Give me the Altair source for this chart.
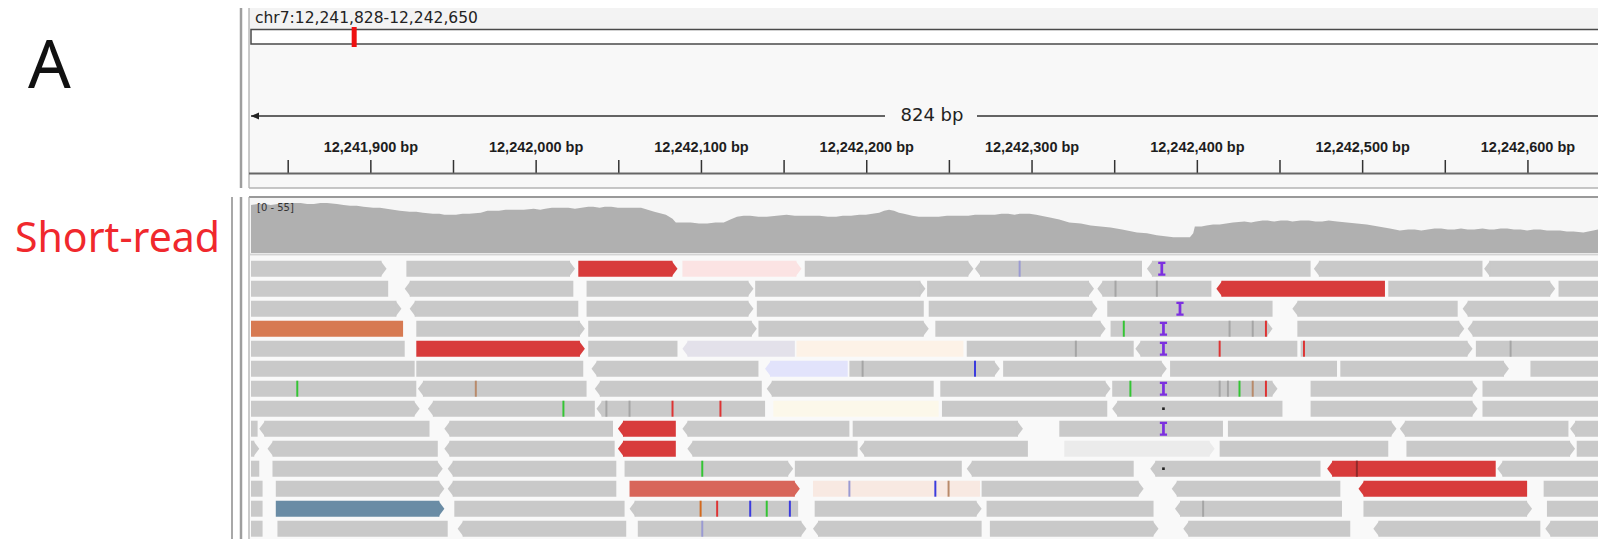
import altair as alt
import pandas as pd

# ---------------- data ----------------
VIEW_START = 12241828
VIEW_END = 12242650
CHROM = "chr7"
CHROM_LEN = 159345973
COV_MAX = 55

TICK_MAJOR = [12241900, 12242000, 12242100, 12242200, 12242300, 12242400, 12242500, 12242600]
TICK_MINOR = [12241850, 12241950, 12242050, 12242150, 12242250, 12242350, 12242450, 12242550]

# coverage profile: offset (bp from view start) and depth
COV_OFFSET = [0, 4, 8, 12, 16, 20, 24, 30, 34, 38, 42, 46, 52, 56, 60, 64, 68, 74, 78, 82, 86, 90, 96,
              100, 104, 110, 114, 117, 121, 124, 128, 132, 139, 143, 147, 150, 154, 158, 162, 165, 171,
              175, 178, 182, 186, 192, 196, 200, 204, 207, 211, 214, 218, 222, 226, 230, 236, 240, 244,
              251, 255, 257, 262, 266, 271, 276, 281, 286, 290, 294, 298, 302, 307, 312, 318, 324, 329,
              334, 339, 344, 349, 354, 358, 363, 368, 372, 376, 380, 383, 386, 389, 392, 395, 400, 404,
              407, 412, 416, 421, 425, 430, 434, 438, 442, 446, 450, 454, 458, 462, 465, 471, 475, 478,
              484, 489, 495, 502, 508, 514, 520, 527, 533, 536, 542, 548, 553, 558, 563, 568, 570, 571,
              575, 578, 582, 586, 590, 594, 601, 605, 608, 612, 615, 619, 623, 627, 630, 635, 640, 644,
              648, 652, 657, 663, 669, 675, 682, 689, 695, 700, 704, 708, 712, 716, 720, 724, 728, 732,
              736, 740, 745, 749, 752, 756, 760, 764, 768, 772, 776, 780, 784, 788, 792, 796, 800, 806,
              812, 818, 824]
COV_DEPTH = [49, 50, 50, 49, 50, 51, 51, 51, 50, 50, 51, 51, 50, 49, 48, 48, 47, 46, 46, 45, 44, 43, 42,
             42, 41, 40, 40, 39, 39, 39, 40, 40, 41, 43, 43, 43, 44, 44, 44, 44, 45,
             44, 45, 46, 46, 46, 45, 46, 47, 47, 46, 47, 47, 46, 46, 46, 46, 44, 42,
             39, 35, 31, 31, 31, 30, 30, 31, 31, 34, 37, 38, 38, 37, 37, 38, 39, 38,
             38, 38, 38, 37, 37, 38, 38, 39, 39, 40, 41, 43, 44, 43, 41, 40, 38, 37,
             37, 37, 37, 38, 38, 38, 38, 39, 39, 39, 39, 40, 40, 39, 40, 40, 39, 38,
             36, 34, 31, 30, 28, 27, 26, 24, 22, 21, 20, 18, 17, 16, 16, 16, 20, 27,
             27, 28, 29, 29, 30, 31, 32, 31, 32, 33, 33, 32, 33, 33, 32, 33, 33, 32,
             32, 33, 32, 31, 30, 29, 27, 25, 23, 24, 24, 23, 24, 25, 25, 24, 24, 25,
             24, 24, 25, 24, 24, 25, 25, 24, 24, 23, 24, 24, 23, 23, 23, 22, 22, 21,
             23, 25, 25]

# reads per row: (start offset bp, end offset bp, strand, pair class)
ROW0 = [(0, 82, '+', 'n'), (94, 196, '+', 'n'), (198, 258, '+', 'r'), (261, 333, '+', 'pk'), (335, 437, '+', 'n'),
        (438, 539, '-', 'n'), (542, 641, '-', 'n'), (643, 745, '-', 'n'), (746, 826, '-', 'n')]
ROW1 = [(0, 83, '', 'n'), (93, 195, '-', 'n'), (203, 304, '+', 'n'), (305, 408, '+', 'n'), (409, 510, '+', 'n'),
        (512, 581, '-', 'n'), (584, 686, '-', 'r'), (688, 789, '+', 'n'), (791, 826, '', 'n')]
ROW2 = [(0, 91, '+', 'n'), (96, 198, '-', 'n'), (203, 304, '+', 'n'), (306, 407, '', 'n'), (410, 512, '+', 'n'),
        (518, 618, '', 'n'), (630, 730, '-', 'n'), (733, 826, '-', 'n')]
ROW3 = [(0, 92, '', 'o'), (100, 202, '+', 'n'), (204, 306, '+', 'n'), (307, 410, '+', 'n'), (414, 517, '+', 'n'),
        (520, 618, '+', 'n'), (633, 734, '+', 'n'), (736, 826, '-', 'n')]
ROW4 = [(0, 93, '', 'n'), (100, 202, '+', 'r'), (204, 258, '', 'n'), (261, 329, '-', 'lv'), (330, 431, '', 'cr'),
        (433, 534, '', 'n'), (535, 633, '-', 'n'), (635, 739, '+', 'n'), (741, 826, '', 'n')]
ROW5 = [(0, 99, '', 'n'), (100, 201, '', 'n'), (206, 307, '-', 'n'), (311, 361, '-', 'lb'), (362, 453, '+', 'n'),
        (455, 554, '+', 'n'), (556, 657, '', 'n'), (659, 761, '+', 'n'), (774, 826, '', 'n')]
ROW6 = [(0, 100, '', 'n'), (101, 203, '-', 'n'), (208, 309, '-', 'n'), (312, 413, '-', 'n'), (417, 520, '+', 'n'),
        (521, 621, '+', 'n'), (641, 742, '+', 'n'), (745, 826, '', 'n')]
ROW7 = [(0, 102, '+', 'n'), (107, 208, '-', 'n'), (209, 311, '-', 'n'), (316, 416, '', 'cy'), (418, 518, '', 'n'),
        (521, 624, '-', 'n'), (641, 742, '+', 'n'), (745, 826, '', 'n')]
ROW8 = [(0, 4, '', 'n'), (5, 108, '-', 'n'), (117, 219, '-', 'n'), (222, 257, '-', 'r'), (261, 362, '-', 'n'),
        (364, 467, '+', 'n'), (489, 588, '', 'n'), (591, 693, '+', 'n'), (695, 797, '-', 'n'), (798, 826, '-', 'n')]
ROW9 = [(0, 5, '+', 'n'), (10, 113, '-', 'n'), (117, 220, '-', 'n'), (222, 257, '-', 'r'), (264, 367, '-', 'n'),
        (368, 470, '-', 'n'), (492, 583, '+', 'wg'), (586, 688, '', 'n'), (699, 801, '+', 'n'), (802, 826, '', 'n')]
ROW10 = [(0, 5, '', 'n'), (13, 116, '+', 'n'), (119, 221, '-', 'n'), (226, 328, '+', 'n'), (329, 430, '', 'n'),
         (433, 534, '-', 'n'), (544, 647, '-', 'n'), (651, 753, '-', 'r'), (754, 826, '-', 'n')]
ROW11 = [(0, 7, '', 'n'), (15, 117, '+', 'n'), (119, 221, '-', 'n'), (229, 332, '+', 's'), (340, 441, '', 'lp'),
         (442, 540, '+', 'n'), (557, 659, '-', 'n'), (670, 772, '-', 'r'), (782, 826, '', 'n')]
ROW12 = [(0, 7, '', 'n'), (15, 117, '+', 'b'), (123, 226, '', 'n'), (229, 331, '-', 'n'), (341, 442, '+', 'n'),
         (445, 546, '', 'n'), (559, 660, '-', 'n'), (673, 775, '+', 'n'), (784, 826, '', 'n')]
ROW13 = [(0, 7, '', 'n'), (16, 119, '', 'n'), (125, 227, '-', 'n'), (234, 336, '+', 'n'), (340, 442, '-', 'n'),
         (447, 549, '+', 'n'), (564, 665, '-', 'n'), (679, 780, '-', 'n'), (783, 826, '-', 'n')]
ROW14 = [(0, 7, '', 'n'), (18, 123, '', 'n'), (130, 230, '', 'r'), (235, 338, '', 'n'), (340, 444, '', 'n'),
         (447, 550, '', 'n'), (565, 665, '', 'n'), (679, 780, '', 'n'), (783, 826, '', 'n')]
ALL_ROWS = [ROW0, ROW1, ROW2, ROW3, ROW4, ROW5, ROW6, ROW7, ROW8, ROW9, ROW10, ROW11, ROW12, ROW13, ROW14]

# mismatches: (row, offset, base code)
MISMATCH = [(0, 465, 'c'), (1, 523, 'x'), (1, 548, 'x'), (3, 528, 'A'), (3, 592, 'x'), (3, 606, 'x'), (3, 614, 'T'),
            (4, 499, 'x'), (4, 586, 'T'), (4, 637, 'T'), (4, 762, 'x'), (5, 370, 'x'), (5, 438, 'C'),
            (6, 28, 'A'), (6, 136, 'g'), (6, 532, 'A'), (6, 586, 'x'), (6, 591, 'x'), (6, 598, 'A'), (6, 606, 'g'),
            (6, 614, 'T'), (7, 189, 'A'), (7, 215, 'x'), (7, 229, 'x'), (7, 255, 'T'), (7, 284, 'T'),
            (10, 273, 'A'), (10, 669, 'd'), (11, 362, 'c'), (11, 414, 'C'), (11, 422, 'g'),
            (12, 272, 'G'), (12, 282, 'T'), (12, 302, 'C'), (12, 312, 'A'), (12, 326, 'C'), (12, 576, 'x'),
            (13, 273, 'c'), (14, 179, 'd')]
INSERTIONS = [(0, 551), (2, 562), (3, 552), (4, 552), (6, 552), (8, 552)]
DELETIONS = [(7, 552), (10, 552)]

# ---------------- styles ----------------
READ_COLOR = {'n': '#c9c9c9', 'r': '#d83b3b', 'o': '#d77a52', 's': '#d8665a', 'b': '#6a8ca5',
              'pk': '#fbe3e3', 'lv': '#e3e1ea', 'cr': '#fdf2e7', 'lb': '#e2e3fb', 'cy': '#fcf8ea',
              'wg': '#ebebeb', 'lp': '#f8e9e2'}
MM_COLOR = {'A': '#33c433', 'C': '#3b3bde', 'G': '#d2691e', 'T': '#dd3333', 'x': '#a5a5a5',
            'c': '#9a9ad2', 'g': '#b88a6a', 'd': '#8f2a2a'}

G0 = VIEW_START - 0.5
rows = []
for r, reads in enumerate(ALL_ROWS):
    for s, e, strand, kind in reads:
        rows.append(dict(row=r, row2=r + 0.8, rowc=r + 0.4, start=G0 + s, end=G0 + e,
                         strand=strand, color=READ_COLOR[kind]))
reads_df = pd.DataFrame(rows)
mm_df = pd.DataFrame([dict(row=r, row2=r + 0.8, a=G0 + p - 0.6, b=G0 + p + 0.6, color=MM_COLOR[c])
                      for r, p, c in MISMATCH])
ins_df = pd.DataFrame([dict(rowc=r + 0.4, pos=G0 + p) for r, p in INSERTIONS])
del_df = pd.DataFrame([dict(rowc=r + 0.4, pos=G0 + p) for r, p in DELETIONS])
cov_df = pd.DataFrame(dict(pos=[G0 + o for o in COV_OFFSET], depth=COV_DEPTH))
maj_df = pd.DataFrame(dict(pos=TICK_MAJOR, label=[f"{v:,} bp" for v in TICK_MAJOR]))
ticks_df = pd.DataFrame(dict(pos=TICK_MAJOR + TICK_MINOR))
ideo_df = pd.DataFrame(dict(pos=[(VIEW_START + VIEW_END) / 2]))
one = pd.DataFrame({'k': [0]})

PXBP = 1.653
XS = alt.Scale(domain=[G0, G0 + 824], range=[243, 243 + 824 * PXBP], nice=False, zero=False)
YS = alt.Scale(domain=[0, 15], range=[252.7, 552.7], nice=False, zero=False)
CS = alt.Scale(domain=[0, COV_MAX], range=[245, 191], nice=False, zero=False)
IS = alt.Scale(domain=[0, CHROM_LEN], range=[242, 1598], nice=False, zero=False)

RIGHT_TIP = "M-0.75,-1L0,0L-0.75,1Z"
LEFT_TIP = "M0.75,-1L0,0L0.75,1Z"
IBEAM = "M-0.45,-0.875H0.45V-0.6H0.17V0.6H0.45V0.875H-0.45V0.6H-0.17V-0.6H-0.45Z"
ARROW_L = "M0,0L1,-0.45L1,0.45Z"


def hrule(y, x1, x2, color, w):
    return alt.Chart(one).mark_rule(color=color, strokeWidth=w).encode(
        x=alt.value(x1), x2=alt.value(x2), y=alt.value(y))


def vrule(x, y1, y2, color, w):
    return alt.Chart(one).mark_rule(color=color, strokeWidth=w).encode(
        x=alt.value(x), y=alt.value(y1), y2=alt.value(y2))


def box(x1, x2, y1, y2, fill, stroke=None, sw=0):
    kw = dict(fill=fill)
    if stroke:
        kw.update(stroke=stroke, strokeWidth=sw)
    else:
        kw.update(strokeWidth=0)
    return alt.Chart(one).mark_rect(**kw).encode(
        x=alt.value(x1), x2=alt.value(x2), y=alt.value(y1), y2=alt.value(y2))


def label(txt, x, y, size, **kw):
    return alt.Chart(one).mark_text(fontSize=size, **kw).encode(
        x=alt.value(x), y=alt.value(y), text=alt.value(txt))


ident = alt.Color('color:N', scale=None)
xr = alt.X('start:Q', scale=XS, axis=None)
yr = alt.Y('row:Q', scale=YS, axis=None)

body_plain = alt.Chart(reads_df).transform_filter("datum.strand == ''").mark_rect(strokeWidth=0).encode(
    x=xr, x2='end:Q', y=yr, y2='row2:Q', color=ident)
body_fwd = alt.Chart(reads_df).transform_filter("datum.strand == '+'").mark_rect(strokeWidth=0, x2Offset=-5).encode(
    x=xr, x2='end:Q', y=yr, y2='row2:Q', color=ident)
body_rev = alt.Chart(reads_df).transform_filter("datum.strand == '-'").mark_rect(strokeWidth=0, xOffset=5).encode(
    x=xr, x2='end:Q', y=yr, y2='row2:Q', color=ident)
tip_fwd = alt.Chart(reads_df).transform_filter("datum.strand == '+'").mark_point(
    shape=RIGHT_TIP, size=256, filled=True, opacity=1, strokeWidth=0).encode(
    x=alt.X('end:Q', scale=XS, axis=None), y=alt.Y('rowc:Q', scale=YS, axis=None), color=ident)
tip_rev = alt.Chart(reads_df).transform_filter("datum.strand == '-'").mark_point(
    shape=LEFT_TIP, size=256, filled=True, opacity=1, strokeWidth=0).encode(
    x=alt.X('start:Q', scale=XS, axis=None), y=alt.Y('rowc:Q', scale=YS, axis=None), color=ident)

mism = alt.Chart(mm_df).mark_rect(strokeWidth=0).encode(
    x=alt.X('a:Q', scale=XS, axis=None), x2='b:Q', y=yr, y2='row2:Q', color=ident)
ins = alt.Chart(ins_df).mark_point(shape=IBEAM, size=256, filled=True, opacity=1, strokeWidth=0,
                                   color='#7c2fe0').encode(
    x=alt.X('pos:Q', scale=XS, axis=None), y=alt.Y('rowc:Q', scale=YS, axis=None))
dels = alt.Chart(del_df).mark_point(shape='square', size=7, filled=True, opacity=1, color='#222222').encode(
    x=alt.X('pos:Q', scale=XS, axis=None), y=alt.Y('rowc:Q', scale=YS, axis=None))

coverage = alt.Chart(cov_df).mark_area(color='#b0b0b0', interpolate='linear').encode(
    x=alt.X('pos:Q', scale=XS, axis=None), y=alt.Y('depth:Q', scale=CS, axis=None))

ideo_marker = alt.Chart(ideo_df).mark_tick(color='#ee1111', thickness=5, size=20, opacity=1).encode(
    x=alt.X('pos:Q', scale=IS, axis=None), y=alt.value(29))

ticks = alt.Chart(ticks_df).mark_rule(color='#333333', strokeWidth=1.5).encode(
    x=alt.X('pos:Q', scale=XS, axis=None), y=alt.value(152), y2=alt.value(165))
tick_labels = alt.Chart(maj_df).mark_text(fontSize=14.5, fontWeight='bold',
                                          font='Liberation Sans',
                                          color='#1e1e1e', baseline='middle').encode(
    x=alt.X('pos:Q', scale=XS, axis=None), y=alt.value(140), text='label:N')

arrow_l = alt.Chart(one).mark_point(shape=ARROW_L, size=256, filled=True, opacity=1, strokeWidth=0,
                                    color='#222222').encode(x=alt.value(243), y=alt.value(108))

locus = f"{CHROM}:{VIEW_START:,}-{VIEW_END:,}"
span = f"{VIEW_END - VIEW_START + 2} bp"

layers = [
    # left frame lines
    vrule(233, 0, 180, '#9e9e9e', 2.5),
    vrule(224, 189, 531, '#a8a8a8', 2), vrule(233, 189, 531, '#9e9e9e', 2.5),
    # top panel
    box(241, 1598, 0, 180, '#f8f8f8'),
    box(241, 1598, 0, 21, '#f3f3f3'),
    vrule(241, 0, 180, '#a8a8a8', 1.2),
    box(243, 1600, 21.5, 36, '#ffffff', '#4a4a4a', 1.5),
    ideo_marker,
    label(locus, 247, 15, 15.5, font='DejaVu Sans', color='#222222', align='left', baseline='alphabetic'),
    hrule(108, 243, 877, '#333333', 1.5), hrule(108, 969, 1598, '#333333', 1.5), arrow_l,
    label(span, 924, 108, 18, font='DejaVu Sans', color='#222222', align='center', baseline='middle'),
    tick_labels, ticks,
    hrule(165.5, 241, 1598, '#666666', 2),
    hrule(180, 241, 1598, '#b4b4b4', 1.5),
    # coverage panel
    hrule(189, 241, 1598, '#999999', 2),
    vrule(241, 189, 531, '#a8a8a8', 1.2),
    box(242, 1598, 190, 245, '#f6f6f6'),
    coverage,
    label("[0 - 55]", 249, 200, 10, font='DejaVu Sans', color='#333333', align='left', baseline='middle'),
    hrule(246.5, 242, 1598, '#d4d4d4', 2),
    box(242, 1598, 248, 531, '#f9f9f9'),
    # reads
    body_plain, body_fwd, body_rev, tip_fwd, tip_rev, mism, ins, dels,
    # side labels
    label("A", 20, 80, 67, font='Noto Sans', color='#111111', align='left', baseline='alphabetic'),
    label("Short-read", 7, 243.7, 41, font='Noto Sans', color='#f0282d', align='left', baseline='alphabetic'),
]

chart = alt.layer(*layers).resolve_scale(x='independent', y='independent').properties(
    width=1590, height=531, padding=0, autosize=alt.AutoSizeParams(type='none'),
    background='#ffffff'
).configure_view(stroke=None)

chart.save("out.html", embed_options={"renderer": "svg", "actions": False})
